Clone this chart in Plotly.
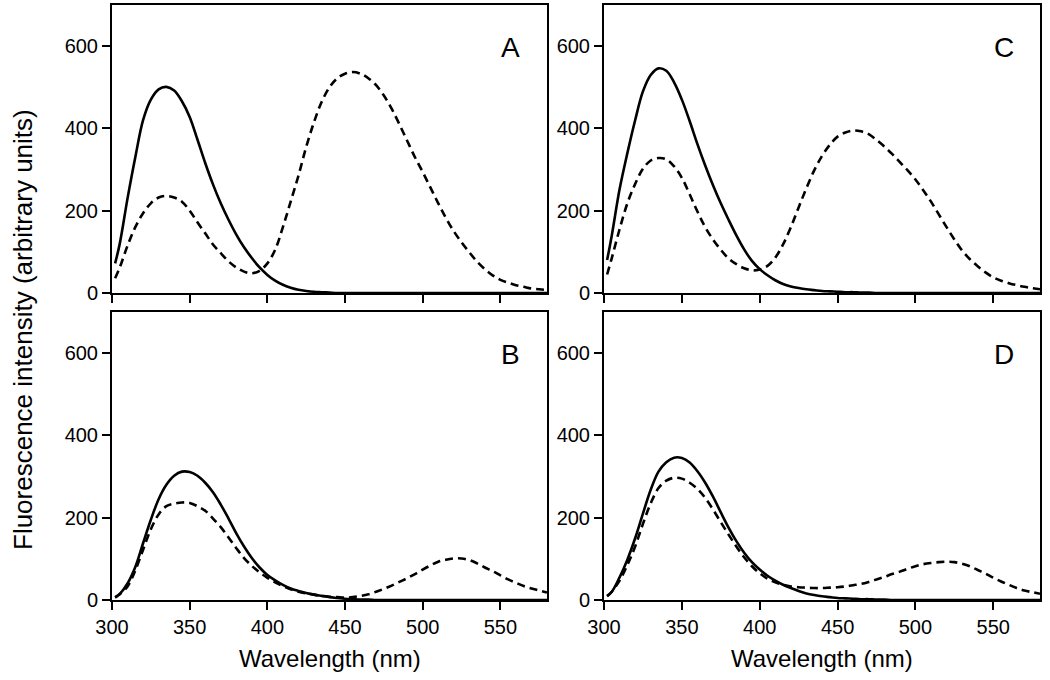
import plotly.graph_objects as go
from plotly.subplots import make_subplots

# wavelength grid (nm) shared by all spectra
wavelength = [302] + list(range(305, 581, 5))

# panel A
a_solid = [72, 120, 230, 330, 420, 470, 495, 501, 492, 466, 428, 373, 316, 264, 218, 178,
           142, 111, 85, 62, 44, 30, 20, 13, 8, 5, 3, 2, 1, 0, 0, 0, 0, 0, 0, 0, 0, 0,
           0, 0, 0, 0, 0, 0, 0, 0, 0, 0, 0, 0, 0, 0, 0, 0, 0, 0, 0]
a_dash = [36, 62, 115, 160, 194, 218, 232, 236, 232, 222, 200, 172, 145, 118, 97, 77,
          62, 52, 48, 54, 72, 105, 160, 222, 285, 355, 415, 465, 500, 522, 533, 537,
          533, 522, 505, 480, 448, 410, 370, 330, 294, 256, 218, 182, 150, 123, 99, 76,
          58, 43, 32, 25, 19, 15, 11, 9, 7]

# panel B
b_solid = [7, 15, 40, 80, 138, 195, 245, 280, 302, 312, 311, 302, 285, 262, 232, 198,
           162, 130, 102, 79, 61, 48, 37, 28, 22, 17, 13, 10, 7, 5, 3, 2, 1, 1, 0, 0,
           0, 0, 0, 0, 0, 0, 0, 0, 0, 0, 0, 0, 0, 0, 0, 0, 0, 0, 0, 0, 0]
b_dash = [6, 14, 33, 72, 122, 172, 208, 228, 234, 237, 236, 228, 217, 198, 177, 152,
          126, 102, 83, 67, 54, 43, 34, 26, 20, 16, 13, 10, 8, 7, 6, 7, 10, 14, 20, 27,
          35, 44, 53, 63, 74, 84, 93, 98, 101, 101, 97, 89, 79, 70, 60, 50, 42, 34, 28,
          23, 18]

# panel C
c_solid = [80, 140, 252, 340, 420, 490, 530, 546, 540, 512, 470, 418, 362, 310, 262, 218,
           178, 140, 106, 78, 58, 43, 31, 22, 16, 12, 9, 7, 5, 4, 3, 2, 2, 1, 1, 0, 0,
           0, 0, 0, 0, 0, 0, 0, 0, 0, 0, 0, 0, 0, 0, 0, 0, 0, 0, 0, 0]
c_dash = [45, 85, 155, 218, 265, 302, 322, 328, 325, 308, 280, 240, 198, 160, 130, 105,
          84, 70, 60, 55, 57, 66, 86, 118, 160, 208, 255, 298, 333, 360, 380, 390, 395,
          393, 386, 372, 356, 338, 318, 298, 276, 250, 222, 191, 160, 130, 103, 82, 65,
          50, 38, 30, 24, 19, 15, 12, 9]

# panel D
d_solid = [10, 20, 55, 98, 150, 210, 268, 312, 335, 346, 345, 334, 313, 285, 251, 213,
           176, 143, 115, 92, 74, 59, 47, 37, 29, 22, 16, 12, 9, 7, 5, 4, 3, 2, 2, 1, 1,
           0, 0, 0, 0, 0, 0, 0, 0, 0, 0, 0, 0, 0, 0, 0, 0, 0, 0, 0, 0]
d_dash = [9, 20, 47, 85, 130, 185, 235, 272, 290, 297, 295, 285, 270, 248, 220, 189,
          159, 130, 104, 82, 65, 52, 43, 37, 33, 31, 30, 29, 29, 30, 31, 33, 36, 39, 44,
          50, 56, 63, 69, 76, 82, 87, 90, 92, 93, 92, 88, 82, 73, 64, 54, 45, 37, 29, 23,
          19, 15]

panels = [
    ("A", 1, 1, a_solid, a_dash),
    ("C", 1, 2, c_solid, c_dash),
    ("B", 2, 1, b_solid, b_dash),
    ("D", 2, 2, d_solid, d_dash),
]

W, H = 1050, 680
FONT = "Liberation Sans, Arial, sans-serif"


def px_x(p):
    return p / W


def px_y(p):
    return (H - p) / H


# pixel boxes of the four frames
x_dom = {1: [px_x(112), px_x(547)], 2: [px_x(604), px_x(1040)]}
y_dom = {1: [px_y(293), px_y(5)], 2: [px_y(600), px_y(312)]}

fig = make_subplots(rows=2, cols=2)

for label, r, c, solid, dash in panels:
    fig.add_trace(go.Scatter(x=wavelength, y=solid, mode="lines",
                             line=dict(color="black", width=2.6, shape="spline"),
                             showlegend=False), row=r, col=c)
    fig.add_trace(go.Scatter(x=wavelength, y=dash, mode="lines",
                             line=dict(color="black", width=2.6, dash="8px,5px", shape="spline"),
                             showlegend=False), row=r, col=c)
    fig.update_xaxes(domain=x_dom[c], range=[300, 580], tickvals=[300, 350, 400, 450, 500, 550],
                     showticklabels=(r == 2), row=r, col=c)
    fig.update_yaxes(domain=y_dom[r], range=[0, 700], tickvals=[0, 200, 400, 600],
                     row=r, col=c)

axis_style = dict(showline=True, linecolor="black", linewidth=2, mirror=True,
                  ticks="outside", ticklen=8, tickwidth=2, tickcolor="black",
                  showgrid=False, zeroline=False, automargin=False,
                  tickfont=dict(size=20, color="black"))
fig.update_xaxes(**axis_style)
fig.update_yaxes(**axis_style)

annotations = []
letter_pos = {"A": ("x domain", "y domain"), "C": ("x2 domain", "y2 domain"),
              "B": ("x3 domain", "y3 domain"), "D": ("x4 domain", "y4 domain")}
for label, (xr, yr) in letter_pos.items():
    annotations.append(dict(text=label, x=0.917, y=0.852, xref=xr, yref=yr,
                            showarrow=False, font=dict(size=28, color="black"),
                            xanchor="center", yanchor="middle"))

for cx in (329.5, 822):
    annotations.append(dict(text="Wavelength (nm)", x=px_x(cx), y=px_y(658),
                            xref="paper", yref="paper", showarrow=False,
                            font=dict(size=24, color="black"),
                            xanchor="center", yanchor="middle"))
annotations.append(dict(text="Fluorescence intensity (arbitrary units)", x=px_x(23),
                        y=px_y(330), xref="paper", yref="paper", showarrow=False,
                        textangle=-90, font=dict(size=26, color="black"),
                        xanchor="center", yanchor="middle"))

fig.update_layout(
    template="none",
    width=W, height=H,
    margin=dict(l=0, r=0, t=0, b=0, pad=0),
    plot_bgcolor="white", paper_bgcolor="white",
    font=dict(family=FONT, color="black"),
    annotations=annotations,
)

# drop the default page margin so the figure sits at the window corner
fig.write_html("out.html", config={"displayModeBar": False},
               post_script="document.body.style.margin = '0px';")
